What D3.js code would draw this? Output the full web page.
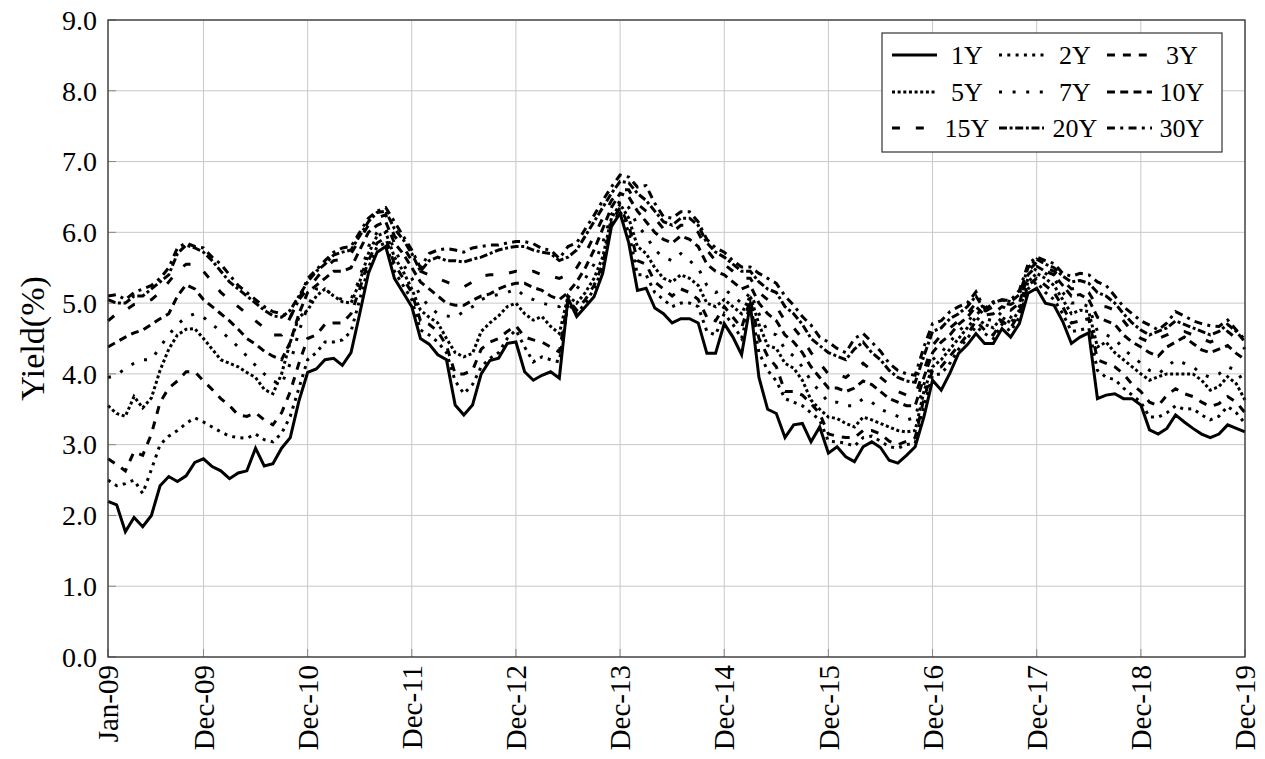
<!DOCTYPE html>
<html>
<head>
<meta charset="utf-8">
<script src="https://cdn.jsdelivr.net/npm/d3@7"></script>
<style>
  body { margin: 0; background: #fff; }
  text { font-family: "Liberation Serif", "DejaVu Serif", serif; fill: #000; }
</style>
</head>
<body>
<svg id="mainsvg" width="1265" height="759"></svg>
<script>
// monthly yields, Jan-09 .. Dec-19 (132 points per tenor)
const y1 = [2.20,2.15,1.77,1.97,1.84,2.00,2.42,2.55,2.48,2.56,2.75,2.80,
  2.69,2.63,2.52,2.60,2.63,2.95,2.70,2.73,2.95,3.10,3.62,4.02,
  4.07,4.20,4.22,4.12,4.30,4.85,5.42,5.72,5.80,5.35,5.15,4.95,
  4.50,4.42,4.27,4.20,3.56,3.42,3.56,4.00,4.19,4.22,4.43,4.45,
  4.03,3.91,3.98,4.03,3.94,5.07,4.81,4.95,5.09,5.42,6.08,6.27,
  5.85,5.18,5.21,4.93,4.85,4.72,4.78,4.78,4.72,4.29,4.29,4.71,
  4.52,4.27,4.98,3.95,3.50,3.44,3.10,3.28,3.30,3.04,3.25,2.88,
  2.97,2.83,2.76,2.97,3.04,2.96,2.78,2.74,2.85,2.97,3.39,3.91,
  3.77,4.01,4.29,4.41,4.57,4.43,4.43,4.64,4.52,4.71,5.14,5.21,
  5.00,4.97,4.74,4.43,4.52,4.58,3.65,3.70,3.72,3.65,3.65,3.56,
  3.21,3.15,3.23,3.42,3.32,3.23,3.15,3.10,3.15,3.28,3.23,3.18]
const y2 = [2.50,2.42,2.45,2.50,2.31,2.65,3.00,3.12,3.20,3.30,3.38,3.32,
  3.25,3.18,3.12,3.10,3.09,3.15,3.07,3.04,3.16,3.40,3.80,4.20,
  4.30,4.45,4.45,4.48,4.60,5.05,5.50,5.80,5.85,5.45,5.25,5.05,
  4.62,4.55,4.45,4.30,3.90,3.72,3.85,4.10,4.22,4.30,4.50,4.62,
  4.38,4.17,4.24,4.20,4.17,5.00,4.85,5.00,5.20,5.50,6.10,6.30,
  6.00,5.40,5.40,5.15,5.05,4.95,5.00,5.00,4.95,4.60,4.55,4.85,
  4.70,4.50,5.00,4.30,4.05,3.90,3.65,3.60,3.55,3.45,3.35,3.05,
  3.04,3.02,2.98,3.10,3.12,3.05,2.97,2.95,3.00,3.02,3.55,3.98,
  4.00,4.15,4.35,4.50,4.67,4.57,4.50,4.70,4.60,4.80,5.20,5.30,
  5.15,5.05,4.85,4.60,4.62,4.65,4.05,3.95,3.92,3.80,3.70,3.60,
  3.39,3.39,3.45,3.55,3.50,3.51,3.42,3.35,3.40,3.54,3.45,3.30]
const y3 = [2.80,2.72,2.63,2.90,2.85,3.15,3.60,3.80,3.90,4.03,4.03,3.90,
  3.78,3.65,3.55,3.42,3.40,3.45,3.35,3.28,3.45,3.75,4.15,4.50,
  4.55,4.70,4.72,4.72,4.85,5.20,5.60,5.85,5.92,5.55,5.35,5.15,
  4.75,4.70,4.60,4.40,4.00,4.00,4.05,4.35,4.45,4.50,4.60,4.68,
  4.52,4.48,4.45,4.38,4.31,5.05,4.90,5.05,5.25,5.55,6.15,6.35,
  6.10,5.60,5.55,5.30,5.20,5.10,5.20,5.15,5.05,4.80,4.75,4.95,
  4.80,4.65,5.05,4.50,4.25,4.10,3.75,3.75,3.70,3.58,3.44,3.15,
  3.12,3.10,3.10,3.20,3.20,3.15,3.05,3.00,3.05,3.10,3.65,4.05,
  4.10,4.25,4.40,4.55,4.75,4.62,4.55,4.75,4.65,4.85,5.25,5.35,
  5.25,5.15,4.95,4.72,4.75,4.78,4.20,4.15,4.10,4.00,3.85,3.75,
  3.60,3.55,3.70,3.79,3.72,3.68,3.60,3.54,3.58,3.68,3.60,3.45]
const y5 = [3.55,3.44,3.40,3.68,3.52,3.66,4.05,4.35,4.55,4.63,4.64,4.50,
  4.35,4.20,4.15,4.10,4.02,3.95,3.78,3.72,4.00,4.45,4.80,4.90,
  5.10,5.20,5.10,5.02,5.00,5.30,5.70,5.95,6.00,5.65,5.45,5.20,
  4.90,4.80,4.72,4.50,4.30,4.24,4.29,4.60,4.72,4.82,4.95,5.00,
  4.85,4.76,4.81,4.67,4.57,5.10,5.00,5.15,5.35,5.65,6.20,6.40,
  6.20,5.80,5.70,5.50,5.35,5.30,5.40,5.35,5.25,5.00,4.95,5.05,
  4.95,4.85,5.10,4.70,4.40,4.36,4.15,4.08,3.91,3.63,3.50,3.39,
  3.37,3.30,3.25,3.39,3.35,3.30,3.25,3.20,3.18,3.20,3.75,4.10,
  4.20,4.35,4.50,4.65,4.80,4.70,4.65,4.80,4.72,4.90,5.30,5.42,
  5.35,5.25,5.05,4.85,4.90,4.88,4.38,4.45,4.30,4.20,4.10,4.00,
  3.91,3.96,4.00,4.00,4.00,4.00,3.91,3.77,3.82,3.96,3.86,3.63]
const y7 = [3.95,3.98,4.08,4.15,4.20,4.20,4.38,4.55,4.70,4.80,4.85,4.80,
  4.70,4.60,4.50,4.38,4.25,4.12,4.00,3.90,3.85,4.15,4.60,4.95,
  5.20,5.20,5.10,5.05,5.05,5.35,5.80,6.00,6.05,5.75,5.55,5.35,
  5.10,4.95,4.85,4.82,4.80,4.88,4.95,5.05,5.10,5.12,5.15,5.20,
  5.10,5.05,5.00,4.97,4.95,5.10,5.20,5.35,5.55,5.85,6.25,6.45,
  6.35,6.10,5.95,5.75,5.65,5.60,5.70,5.60,5.50,5.25,5.15,5.20,
  5.10,5.00,5.15,4.85,4.60,4.55,4.35,4.25,4.10,3.90,3.75,3.60,
  3.60,3.55,3.55,3.65,3.60,3.50,3.45,3.40,3.35,3.38,3.85,4.20,
  4.30,4.45,4.60,4.72,4.90,4.78,4.75,4.88,4.80,4.95,5.35,5.50,
  5.42,5.35,5.15,5.00,5.00,4.95,4.60,4.55,4.50,4.35,4.25,4.15,
  4.05,4.00,4.10,4.20,4.15,4.10,4.00,3.95,4.00,4.10,4.05,3.85]
const y10 = [4.38,4.45,4.52,4.58,4.62,4.70,4.78,4.85,5.10,5.26,5.20,5.05,
  4.95,4.85,4.75,4.63,4.50,4.42,4.32,4.25,4.20,4.45,4.85,5.15,
  5.25,5.35,5.45,5.45,5.50,5.75,6.00,6.10,6.15,5.85,5.70,5.50,
  5.30,5.20,5.10,5.00,4.97,4.97,5.04,5.10,5.13,5.20,5.25,5.28,
  5.28,5.22,5.18,5.10,5.05,5.15,5.30,5.50,5.75,6.05,6.35,6.55,
  6.50,6.30,6.15,6.00,5.90,5.85,5.95,5.90,5.80,5.55,5.45,5.40,
  5.30,5.20,5.25,5.00,4.85,4.75,4.55,4.45,4.30,4.10,3.95,3.80,
  3.80,3.75,3.80,3.90,3.85,3.75,3.65,3.60,3.55,3.55,3.95,4.30,
  4.45,4.55,4.70,4.80,4.95,4.83,4.85,4.95,4.90,5.00,5.40,5.52,
  5.45,5.40,5.25,5.10,5.12,5.05,4.80,4.75,4.70,4.55,4.45,4.38,
  4.30,4.25,4.38,4.45,4.52,4.43,4.34,4.30,4.35,4.40,4.29,4.20]
const y15 = [4.75,4.85,4.90,4.98,5.00,5.05,5.15,5.30,5.45,5.55,5.55,5.45,
  5.30,5.15,5.05,4.95,4.85,4.75,4.65,4.55,4.55,4.80,5.05,5.20,
  5.35,5.50,5.60,5.62,5.70,5.90,6.10,6.20,6.25,5.95,5.80,5.60,
  5.45,5.40,5.35,5.30,5.25,5.23,5.30,5.38,5.40,5.40,5.42,5.45,
  5.42,5.45,5.40,5.38,5.35,5.40,5.50,5.70,5.95,6.20,6.45,6.60,
  6.60,6.40,6.30,6.20,6.05,6.00,6.10,6.10,6.00,5.75,5.60,5.55,
  5.45,5.35,5.35,5.15,5.05,4.95,4.75,4.65,4.50,4.30,4.15,4.00,
  4.00,3.95,4.05,4.15,4.05,3.95,3.85,3.75,3.70,3.70,4.05,4.40,
  4.55,4.65,4.75,4.85,5.00,4.88,4.95,5.00,4.98,5.05,5.45,5.58,
  5.50,5.45,5.32,5.20,5.22,5.15,4.95,4.95,4.90,4.75,4.60,4.50,
  4.45,4.50,4.55,4.60,4.60,4.55,4.50,4.45,4.50,4.60,4.50,4.35]
const y20 = [5.05,5.00,5.00,5.10,5.10,5.20,5.30,5.40,5.70,5.82,5.78,5.72,
  5.60,5.45,5.30,5.20,5.10,5.00,4.90,4.82,4.80,4.90,5.10,5.30,
  5.45,5.55,5.68,5.72,5.75,5.95,6.15,6.28,6.30,6.05,5.90,5.70,
  5.45,5.60,5.65,5.60,5.60,5.58,5.62,5.65,5.70,5.75,5.78,5.80,
  5.80,5.75,5.72,5.70,5.60,5.65,5.75,5.95,6.15,6.35,6.55,6.72,
  6.70,6.55,6.45,6.30,6.15,6.10,6.20,6.20,6.10,5.85,5.72,5.65,
  5.55,5.45,5.45,5.30,5.20,5.15,4.95,4.85,4.70,4.50,4.40,4.30,
  4.25,4.20,4.35,4.45,4.30,4.20,4.05,3.95,3.90,3.88,4.25,4.60,
  4.65,4.78,4.85,4.95,5.10,4.90,5.00,5.05,5.02,5.12,5.50,5.62,
  5.55,5.50,5.38,5.30,5.32,5.28,5.15,5.10,5.00,4.85,4.72,4.62,
  4.55,4.60,4.65,4.75,4.70,4.65,4.60,4.55,4.60,4.70,4.60,4.45]
const y30 = [5.10,5.12,5.05,5.15,5.20,5.25,5.35,5.50,5.78,5.85,5.80,5.78,
  5.65,5.55,5.40,5.25,5.15,5.05,4.95,4.88,4.85,4.80,5.05,5.35,
  5.47,5.60,5.72,5.78,5.80,6.00,6.20,6.30,6.35,6.15,5.95,5.75,
  5.50,5.70,5.75,5.77,5.75,5.72,5.78,5.80,5.82,5.82,5.85,5.87,
  5.87,5.84,5.77,5.75,5.63,5.80,5.85,6.05,6.24,6.45,6.64,6.81,
  6.78,6.64,6.66,6.41,6.22,6.20,6.29,6.29,6.15,5.90,5.78,5.72,
  5.60,5.51,5.51,5.42,5.35,5.28,5.10,4.97,4.81,4.69,4.52,4.45,
  4.36,4.30,4.50,4.57,4.45,4.32,4.15,4.05,4.00,3.98,4.38,4.71,
  4.75,4.88,4.95,5.00,5.16,4.92,5.02,5.04,5.04,5.18,5.55,5.65,
  5.60,5.56,5.42,5.38,5.42,5.40,5.30,5.25,5.10,4.95,4.85,4.75,
  4.69,4.62,4.72,4.88,4.82,4.75,4.71,4.68,4.67,4.76,4.62,4.48]

const seriesNames = ['1Y','2Y','3Y','5Y','7Y','10Y','15Y','20Y','30Y']
const seriesValues = [y1,y2,y3,y5,y7,y10,y15,y20,y30]

const tickLabels = ['Jan-09','Dec-09','Dec-10','Dec-11','Dec-12','Dec-13','Dec-14','Dec-15','Dec-16','Dec-17','Dec-18','Dec-19']
const tickMonths = [0,11,23,35,47,59,71,83,95,107,119,131]
const yTicks = [0,1,2,3,4,5,6,7,8,9]

// tikz-like dash patterns (pt ~ 2.65px, line width 3px)
const pt = 2.65
const lw = 3
const dashes = {
  '1Y': null,
  '2Y': [lw, 2 * pt],
  '3Y': [3 * pt, 3 * pt],
  '5Y': [lw, 1 * pt],
  '7Y': [lw, 4 * pt],
  '10Y': [3 * pt, 2 * pt],
  '15Y': [3 * pt, 6 * pt],
  '20Y': [3 * pt, 1 * pt, lw, 1 * pt],
  '30Y': [3 * pt, 2 * pt, lw, 2 * pt]
}

const pLeft = 108, pRight = 1245, pTop = 20, pBottom = 657
const yTickFont = 28
const xTickFont = 29
const legendFont = 26

const svg = d3.select('#mainsvg')
const x = d3.scaleLinear().domain([0, y1.length - 1]).range([pLeft, pRight])
const y = d3.scaleLinear().domain([0, 9]).range([pBottom, pTop])

// grid
const grid = svg.append('g')
grid.selectAll('.gx').data(tickMonths).join('line')
  .attr('x1', d => x(d)).attr('x2', d => x(d))
  .attr('y1', pTop).attr('y2', pBottom)
  .attr('stroke', '#c8c8c8').attr('stroke-width', 1)
grid.selectAll('.gy').data(yTicks).join('line')
  .attr('x1', pLeft).attr('x2', pRight)
  .attr('y1', d => y(d)).attr('y2', d => y(d))
  .attr('stroke', '#c8c8c8').attr('stroke-width', 1)

// ticks (inward)
svg.append('g').selectAll('line').data(yTicks).join('line')
  .attr('x1', pLeft).attr('x2', pLeft + 8)
  .attr('y1', d => y(d)).attr('y2', d => y(d))
  .attr('stroke', '#888').attr('stroke-width', 1)
svg.append('g').selectAll('line').data(tickMonths).join('line')
  .attr('x1', d => x(d)).attr('x2', d => x(d))
  .attr('y1', pBottom).attr('y2', pBottom - 8)
  .attr('stroke', '#888').attr('stroke-width', 1)

// series
const line = d3.line()
  .x((d, i) => x(i))
  .y(d => y(d))

const plot = svg.append('g')
seriesNames.forEach((name, k) => {
  plot.append('path')
    .datum(seriesValues[k])
    .attr('d', line)
    .attr('fill', 'none')
    .attr('stroke', '#000')
    .attr('stroke-width', lw)
    .attr('stroke-linejoin', 'miter')
    .attr('stroke-miterlimit', 10)
    .attr('stroke-dasharray', dashes[name] ? dashes[name].join(',') : null)
})

// axis frame
svg.append('rect')
  .attr('x', pLeft).attr('y', pTop)
  .attr('width', pRight - pLeft).attr('height', pBottom - pTop)
  .attr('fill', 'none')
  .attr('stroke', '#333')
  .attr('stroke-width', 1.3)

// tick labels
svg.append('g').selectAll('text').data(yTicks).join('text')
  .attr('x', pLeft - 11)
  .attr('y', d => y(d))
  .attr('dy', '0.35em')
  .attr('text-anchor', 'end')
  .style('font-size', yTickFont + 'px')
  .text(d => d.toFixed(1))

svg.append('g').selectAll('text').data(tickMonths).join('text')
  .attr('transform', d => `translate(${x(d)},${pBottom + 8}) rotate(-90)`)
  .attr('dy', '0.35em')
  .attr('text-anchor', 'end')
  .style('font-size', xTickFont + 'px')
  .text((d, i) => tickLabels[i])

svg.append('text')
  .attr('transform', `translate(32,${(pTop + pBottom) / 2}) rotate(-90)`)
  .attr('dy', '0.35em')
  .attr('text-anchor', 'middle')
  .style('font-size', '34px')
  .text('Yield(%)')

// legend
const lg = svg.append('g')
lg.append('rect')
  .attr('x', 882).attr('y', 33)
  .attr('width', 340).attr('height', 119)
  .attr('fill', '#fff')
  .attr('stroke', '#333')
  .attr('stroke-width', 1.2)

const colLine = [892, 999, 1107]
const colText = [967, 1075, 1182]
const rowY = [55, 92, 128]
seriesNames.forEach((name, k) => {
  const r = Math.floor(k / 3), c = k % 3
  lg.append('line')
    .attr('x1', colLine[c]).attr('x2', colLine[c] + 45)
    .attr('y1', rowY[r]).attr('y2', rowY[r])
    .attr('stroke', '#000')
    .attr('stroke-width', lw)
    .attr('stroke-dasharray', dashes[name] ? dashes[name].join(',') : null)
  lg.append('text')
    .attr('x', colText[c]).attr('y', rowY[r])
    .attr('dy', '0.35em')
    .attr('text-anchor', 'middle')
    .style('font-size', legendFont + 'px')
    .text(name)
})
</script>
</body>
</html>
